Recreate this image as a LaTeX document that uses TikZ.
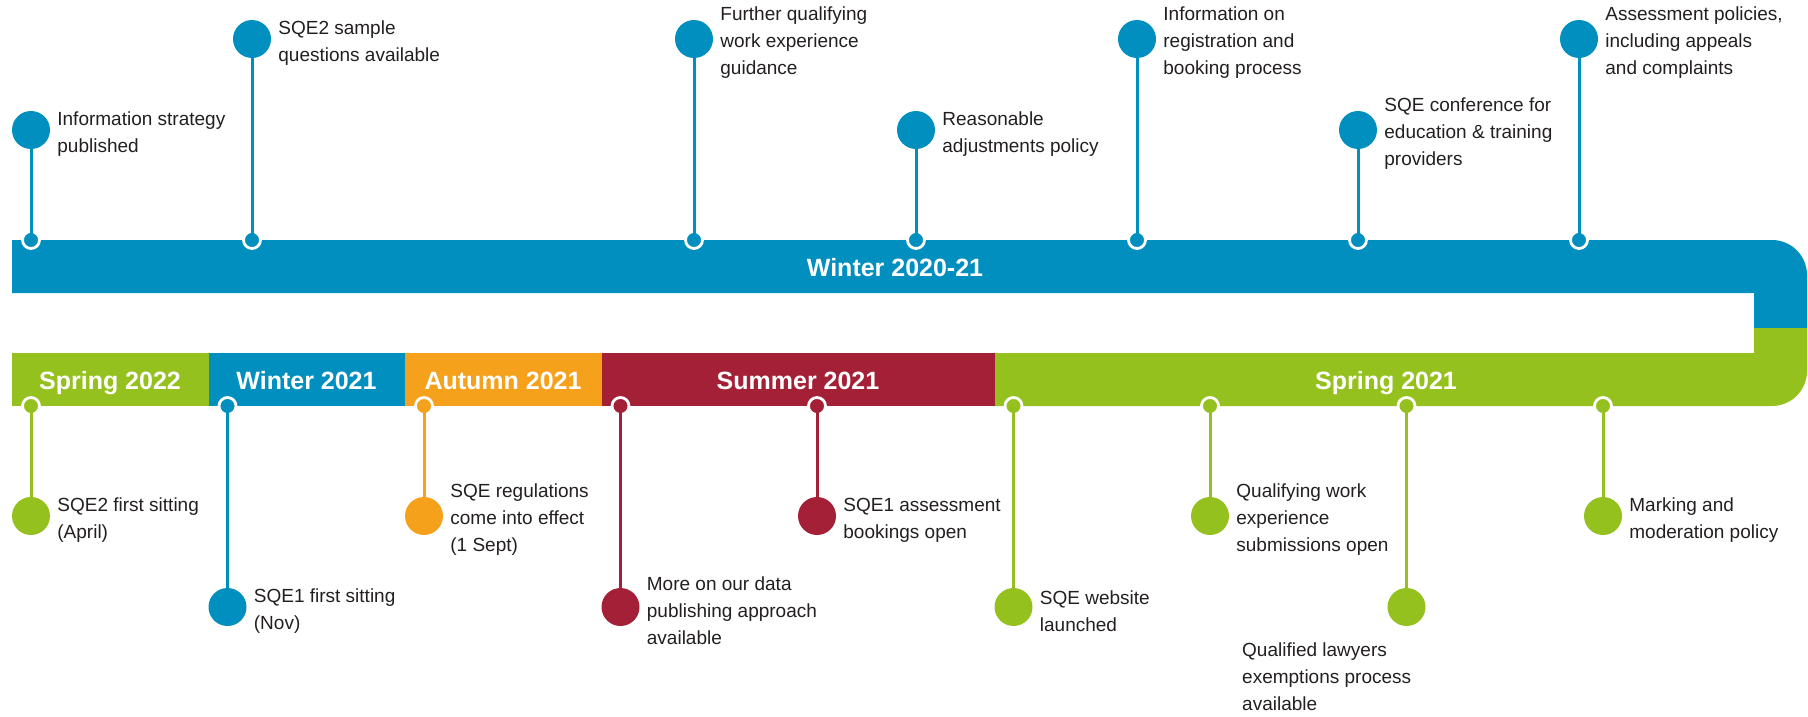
\documentclass[tikz,border=0pt]{standalone}
\usepackage{fontspec}
\setmainfont{Liberation Sans}
\usetikzlibrary{positioning}
\definecolor{sqeblue}{RGB}{0,143,190}
\definecolor{sqegreen}{RGB}{149,193,31}
\definecolor{sqeorange}{RGB}{245,161,28}
\definecolor{sqered}{RGB}{163,32,54}
\definecolor{ink}{RGB}{35,31,32}

\begin{document}
\begin{tikzpicture}[x=1pt,y=-1pt]
\tikzset{dot/.style = {shape=circle,draw=white,line width=2.8pt,inner sep=0pt,minimum size=17pt}}
\tikzset{event/.style = {shape=circle,inner sep=0pt,minimum size=38pt}}
\tikzset{stem/.style = {line width=3pt}}
\tikzset{note/.style = {align=left,inner sep=0pt,yshift=-4pt,text=ink,font=\fontsize{19}{27}\selectfont}}
\tikzset{season/.style = {text=white,inner sep=0pt,text height=18pt,text depth=0pt,font=\bfseries\fontsize{25}{30}\selectfont}}
\useasboundingbox (0,0) rectangle (1808,717);

% the bar: top run, bend on the right, bottom run
\fill[sqeblue] (12,240) -- (1772,240) .. controls (1791.3,240) and (1807,255.7) .. (1807,275)
  -- (1807,328) -- (1754,328) -- (1754,293) -- (12,293) -- cycle;
\fill[sqegreen] (1754,328) -- (1807,328) -- (1807,371) .. controls (1807,390.3) and (1791.3,406) .. (1772,406)
  -- (994.5,406) -- (994.5,353) -- (1754,353) -- cycle;
\fill[sqered] (601.5,353) rectangle (994.5,406);
\fill[sqeorange] (405,353) rectangle (601.5,406);
\fill[sqeblue] (208.5,353) rectangle (405,406);
\fill[sqegreen] (12,353) rectangle (208.5,406);

\node[season] (w2021a) at (895,267) {Winter 2020-21};
\node[season] (s2022) at (110,380) {Spring 2022};
\node[season] (w2021) at (306.5,380) {Winter 2021};
\node[season] (a2021) at (503,380) {Autumn 2021};
\node[season] (su2021) at (798,380) {Summer 2021};
\node[season] (s2021) at (1386,380) {Spring 2021};

% top run
\node[dot, fill=sqeblue] (d1) at (31,240) {};
\node[dot, fill=sqeblue] (d2) at (252,240) {};
\node[dot, fill=sqeblue] (d3) at (694,240) {};
\node[dot, fill=sqeblue] (d4) at (916,240) {};
\node[dot, fill=sqeblue] (d5) at (1137,240) {};
\node[dot, fill=sqeblue] (d6) at (1358,240) {};
\node[dot, fill=sqeblue] (d7) at (1579,240) {};

\node[event, fill=sqeblue] (e1) at (31,130) {};
\node[event, fill=sqeblue] (e2) at (252,39) {};
\node[event, fill=sqeblue] (e3) at (694,39) {};
\node[event, fill=sqeblue] (e4) at (916,130) {};
\node[event, fill=sqeblue] (e5) at (1137,39) {};
\node[event, fill=sqeblue] (e6) at (1358,130) {};
\node[event, fill=sqeblue] (e7) at (1579,39) {};

\draw[stem, sqeblue] (d1.center) -- (e1);
\draw[stem, sqeblue] (d2.center) -- (e2);
\draw[stem, sqeblue] (d3.center) -- (e3);
\draw[stem, sqeblue] (d4.center) -- (e4);
\draw[stem, sqeblue] (d5.center) -- (e5);
\draw[stem, sqeblue] (d6.center) -- (e6);
\draw[stem, sqeblue] (d7.center) -- (e7);

\node[note, right=7pt of e1] (n1) {Information strategy\\published};
\node[note, right=7pt of e2] (n2) {SQE2 sample\\questions available};
\node[note, right=7pt of e3] (n3) {Further qualifying\\work experience\\guidance};
\node[note, right=7pt of e4] (n4) {Reasonable\\adjustments policy};
\node[note, right=7pt of e5] (n5) {Information on\\registration and\\booking process};
\node[note, right=7pt of e6] (n6) {SQE conference for\\education \& training\\providers};
\node[note, right=7pt of e7] (n7) {Assessment policies,\\including appeals\\and complaints};

% bottom run
\node[dot, fill=sqegreen] (b1) at (31,406) {};
\node[dot, fill=sqeblue] (b2) at (227.5,406) {};
\node[dot, fill=sqeorange] (b3) at (424,406) {};
\node[dot, fill=sqered] (b4) at (620.5,406) {};
\node[dot, fill=sqered] (b5) at (817,406) {};
\node[dot, fill=sqegreen] (b6) at (1013.5,406) {};
\node[dot, fill=sqegreen] (b7) at (1210,406) {};
\node[dot, fill=sqegreen] (b8) at (1406.5,406) {};
\node[dot, fill=sqegreen] (b9) at (1603,406) {};

\node[event, fill=sqegreen] (f1) at (31,516) {};
\node[event, fill=sqeblue] (f2) at (227.5,607) {};
\node[event, fill=sqeorange] (f3) at (424,516) {};
\node[event, fill=sqered] (f4) at (620.5,607) {};
\node[event, fill=sqered] (f5) at (817,516) {};
\node[event, fill=sqegreen] (f6) at (1013.5,607) {};
\node[event, fill=sqegreen] (f7) at (1210,516) {};
\node[event, fill=sqegreen] (f8) at (1406.5,607) {};
\node[event, fill=sqegreen] (f9) at (1603,516) {};

\draw[stem, sqegreen] (b1.center) -- (f1);
\draw[stem, sqeblue] (b2.center) -- (f2);
\draw[stem, sqeorange] (b3.center) -- (f3);
\draw[stem, sqered] (b4.center) -- (f4);
\draw[stem, sqered] (b5.center) -- (f5);
\draw[stem, sqegreen] (b6.center) -- (f6);
\draw[stem, sqegreen] (b7.center) -- (f7);
\draw[stem, sqegreen] (b8.center) -- (f8);
\draw[stem, sqegreen] (b9.center) -- (f9);

\node[note, right=7pt of f1] (m1) {SQE2 first sitting\\(April)};
\node[note, right=7pt of f2] (m2) {SQE1 first sitting\\(Nov)};
\node[note, right=7pt of f3] (m3) {SQE regulations\\come into effect\\(1 Sept)};
\node[note, right=7pt of f4] (m4) {More on our data\\publishing approach\\available};
\node[note, right=7pt of f5] (m5) {SQE1 assessment\\bookings open};
\node[note, right=7pt of f6] (m6) {SQE website\\launched};
\node[note, right=7pt of f7] (m7) {Qualifying work\\experience\\submissions open};
\node[note, anchor=north west] (m8) at (1242,639) {Qualified lawyers\\exemptions process\\available};
\node[note, right=7pt of f9] (m9) {Marking and\\moderation policy};
\end{tikzpicture}
\end{document}
